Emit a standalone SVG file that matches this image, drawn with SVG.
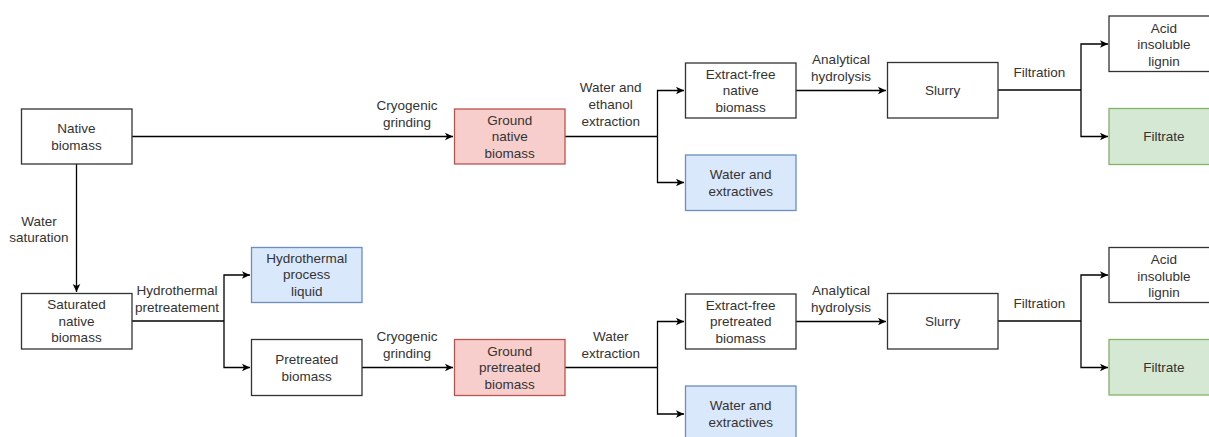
<svg xmlns="http://www.w3.org/2000/svg" width="1209" height="437" viewBox="0 0 1209 437">
<style>
.n{fill:#ffffff;stroke:#333333;stroke-width:1.3}
.r{fill:#f8cecc;stroke:#b85450;stroke-width:1.3}
.b{fill:#dae8fc;stroke:#6c8ebf;stroke-width:1.3}
.g{fill:#d5e8d4;stroke:#82b366;stroke-width:1.3}
text{font-family:"Liberation Sans",Arial,sans-serif;font-size:13.5px;fill:#333333;text-anchor:middle}
.c{fill:none;stroke:#000000;stroke-width:1.3}
</style>
<defs>
<marker id="ah" markerUnits="userSpaceOnUse" markerWidth="10" markerHeight="10" viewBox="0 0 10 10" refX="9" refY="5" orient="auto">
<path d="M1,1.2 L9,5 L1,8.8 L3,5 Z" fill="#000000"/>
</marker>
</defs>
<rect width="1209" height="437" fill="#ffffff"/>
<g id="connectors">
<path class="c" d="M132,136.5 H453" marker-end="url(#ah)"/>
<path class="c" d="M76.5,164 V292" marker-end="url(#ah)"/>
<path class="c" d="M132,321 H224"/>
<path class="c" d="M224,321 V275 H250" marker-end="url(#ah)"/>
<path class="c" d="M224,321 V367.5 H250" marker-end="url(#ah)"/>
<path class="c" d="M362,367.5 H453" marker-end="url(#ah)"/>
<path class="c" d="M565,136.5 H657.5"/>
<path class="c" d="M657.5,136.5 V90.5 H684" marker-end="url(#ah)"/>
<path class="c" d="M657.5,136.5 V182.5 H684" marker-end="url(#ah)"/>
<path class="c" d="M565,367.5 H657.5"/>
<path class="c" d="M657.5,367.5 V321.5 H684" marker-end="url(#ah)"/>
<path class="c" d="M657.5,367.5 V414 H684" marker-end="url(#ah)"/>
<path class="c" d="M796,90.5 H886" marker-end="url(#ah)"/>
<path class="c" d="M998,90 H1081"/>
<path class="c" d="M1081,90 V44 H1108" marker-end="url(#ah)"/>
<path class="c" d="M1081,90 V136.5 H1108" marker-end="url(#ah)"/>
<path class="c" d="M796,321.5 H886" marker-end="url(#ah)"/>
<path class="c" d="M998,321 H1081"/>
<path class="c" d="M1081,321 V275 H1108" marker-end="url(#ah)"/>
<path class="c" d="M1081,321 V367.5 H1108" marker-end="url(#ah)"/>
</g>
<g id="edge-labels">
<text x="407" y="110.4">Cryogenic</text>
<text x="407" y="127">grinding</text>
<text x="39" y="225.7">Water</text>
<text x="39" y="242">saturation</text>
<text x="177" y="295.4">Hydrothermal</text>
<text x="177" y="312">pretreatement</text>
<text x="407" y="341.4">Cryogenic</text>
<text x="407" y="358">grinding</text>
<text x="610.7" y="92.4">Water and</text>
<text x="610.7" y="109">ethanol</text>
<text x="610.7" y="125.7">extraction</text>
<text x="610.7" y="341.4">Water</text>
<text x="610.7" y="357.7">extraction</text>
<text x="841" y="64">Analytical</text>
<text x="841" y="80.7">hydrolysis</text>
<text x="841" y="295.4">Analytical</text>
<text x="841" y="312">hydrolysis</text>
<text x="1039.3" y="77">Filtration</text>
<text x="1039.3" y="308">Filtration</text>
</g>
<g id="native-biomass">
<rect class="n" x="21.5" y="109" width="110.5" height="55"/>
<text x="76.5" y="133">Native</text>
<text x="76.5" y="149.5">biomass</text>
</g>
<g id="saturated-native-biomass">
<rect class="n" x="21.5" y="293.5" width="110.5" height="55.5"/>
<text x="76.5" y="309">Saturated</text>
<text x="76.5" y="325.5">native</text>
<text x="76.5" y="342">biomass</text>
</g>
<g id="hydrothermal-process-liquid">
<rect class="b" x="251.5" y="247.5" width="110.5" height="55"/>
<text x="306.7" y="262.5">Hydrothermal</text>
<text x="306.7" y="279">process</text>
<text x="306.7" y="295.5">liquid</text>
</g>
<g id="pretreated-biomass">
<rect class="n" x="251.5" y="339.5" width="110.5" height="56"/>
<text x="306.7" y="364">Pretreated</text>
<text x="306.7" y="380.5">biomass</text>
</g>
<g id="ground-native-biomass">
<rect class="r" x="454.5" y="109" width="110.5" height="55"/>
<text x="509.7" y="124.5">Ground</text>
<text x="509.7" y="141">native</text>
<text x="509.7" y="157.5">biomass</text>
</g>
<g id="ground-pretreated-biomass">
<rect class="r" x="454.5" y="339.5" width="110.5" height="56"/>
<text x="509.7" y="355.5">Ground</text>
<text x="509.7" y="372">pretreated</text>
<text x="509.7" y="388.5">biomass</text>
</g>
<g id="extract-free-native-biomass">
<rect class="n" x="685.5" y="63" width="110.5" height="55"/>
<text x="740.7" y="78.5">Extract-free</text>
<text x="740.7" y="95">native</text>
<text x="740.7" y="111.5">biomass</text>
</g>
<g id="water-extractives-top">
<rect class="b" x="685.5" y="155" width="110.5" height="55.5"/>
<text x="740.7" y="179">Water and</text>
<text x="740.7" y="195.5">extractives</text>
</g>
<g id="extract-free-pretreated-biomass">
<rect class="n" x="685.5" y="294" width="110.5" height="55"/>
<text x="740.7" y="309.5">Extract-free</text>
<text x="740.7" y="326">pretreated</text>
<text x="740.7" y="342.5">biomass</text>
</g>
<g id="water-extractives-bottom">
<rect class="b" x="685.5" y="386" width="110.5" height="55"/>
<text x="740.7" y="410.3">Water and</text>
<text x="740.7" y="426.5">extractives</text>
</g>
<g id="slurry-top">
<rect class="n" x="887.5" y="62.5" width="110.5" height="55.5"/>
<text x="942.7" y="95">Slurry</text>
</g>
<g id="slurry-bottom">
<rect class="n" x="887.5" y="293.5" width="110.5" height="55.5"/>
<text x="942.7" y="326">Slurry</text>
</g>
<g id="acid-insoluble-lignin-top">
<rect class="n" x="1109" y="16" width="110.5" height="55.5"/>
<text x="1164" y="33">Acid</text>
<text x="1164" y="49">insoluble</text>
<text x="1164" y="65.5">lignin</text>
</g>
<g id="filtrate-top">
<rect class="g" x="1109" y="108.5" width="110.5" height="56"/>
<text x="1164" y="141">Filtrate</text>
</g>
<g id="acid-insoluble-lignin-bottom">
<rect class="n" x="1109" y="247.5" width="110.5" height="55"/>
<text x="1164" y="264">Acid</text>
<text x="1164" y="280.5">insoluble</text>
<text x="1164" y="297">lignin</text>
</g>
<g id="filtrate-bottom">
<rect class="g" x="1109" y="339.5" width="110.5" height="55.5"/>
<text x="1164" y="372">Filtrate</text>
</g>
</svg>
